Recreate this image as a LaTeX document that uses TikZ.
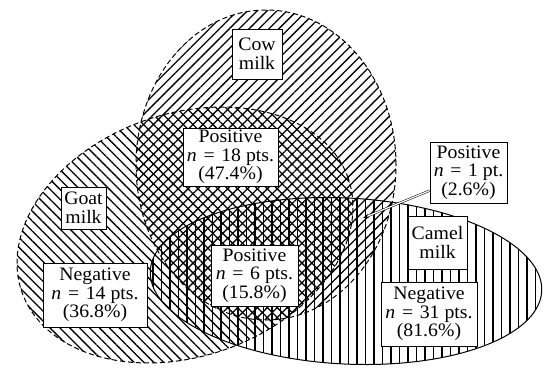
\documentclass[tikz,border=0pt]{standalone}
\usepackage{fontspec}
\setmainfont{Liberation Serif}[FakeStretch=1.04]
\usetikzlibrary{patterns.meta,arrows.meta}
\begin{document}
\begin{tikzpicture}[x=1pt,y=1pt,
  lbl/.style={draw, line width=0.8pt, fill=white, inner sep=0pt, align=center,
    font=\fontsize{19}{18.6}\selectfont},
  dashb/.style={line width=1pt, dash pattern=on 5pt off 3pt},
  solidb/.style={line width=1pt},
  cowfill/.style={pattern={Lines[angle=45,distance=7pt,line width=1.3pt]}},
  goatfill/.style={pattern={Lines[angle=-45,distance=7pt,line width=1.3pt]}},
  camelfill/.style={pattern={Lines[angle=90,distance=8.5pt,line width=1.3pt]}},
  conn/.style={line width=0.5pt, double, double distance=1.2pt, -{Stealth[length=6pt,width=4pt]}}
]
\useasboundingbox (0,0) rectangle (543,-367);
\def\cowpath{(266,-165) ellipse [x radius=130pt, y radius=155pt]}
\def\goatpath{plot[domain=0:360,samples=145,variable=\t] ({185+172.8*cos(\t)*0.9444-121.4*sin(\t)*0.3289},{-235+172.8*cos(\t)*0.3289+121.4*sin(\t)*0.9444}) -- cycle}
\def\camelpath{plot[domain=0:360,samples=145,variable=\t] ({346+196*cos(\t)*0.9986+83*sin(\t)*0.0523},{-281-196*cos(\t)*0.0523+83*sin(\t)*0.9986}) -- cycle}
% fills
\path[cowfill] \cowpath;
\path[goatfill] \goatpath;
\path[camelfill] \camelpath;
% boundaries
\draw[dashb] \cowpath;
\draw[dashb] \goatpath;
\draw[solidb] \camelpath;
% labels
\node[lbl, minimum width=50pt, minimum height=50pt] (cow) at (257,-54) {Cow\\milk};
\node[lbl, minimum width=95pt, minimum height=58pt] (pos18) at (230.5,-157) {Positive\\\textit{n}\hspace{0.35em}=\hspace{0.35em}18 pts.\\(47.4\%)};
\node[lbl, minimum width=77pt, minimum height=61pt] (pos1) at (468.5,-172.5) {Positive\\\textit{n}\hspace{0.35em}=\hspace{0.35em}1 pt.\\(2.6\%)};
\node[lbl, minimum width=45pt, minimum height=42pt] (goat) at (83.5,-208) {Goat\\milk};
\node[lbl, minimum width=104pt, minimum height=64pt] (neg14) at (95,-295) {Negative\\\textit{n}\hspace{0.35em}=\hspace{0.35em}14 pts.\\(36.8\%)};
\node[lbl, minimum width=87pt, minimum height=61pt] (pos6) at (254.5,-275.5) {Positive\\\textit{n}\hspace{0.35em}=\hspace{0.35em}6 pts.\\(15.8\%)};
\node[lbl, minimum width=59pt, minimum height=53pt] (camel) at (437.5,-242.5) {Camel\\milk};
\node[lbl, minimum width=96pt, minimum height=64pt] (neg31) at (429,-314) {Negative\\\textit{n}\hspace{0.35em}=\hspace{0.35em}31 pts.\\(81.6\%)};
% connector
\coordinate (p1tip) at (363,-218);
\draw[conn] (pos1.205) -- (p1tip);
\end{tikzpicture}
\end{document}
